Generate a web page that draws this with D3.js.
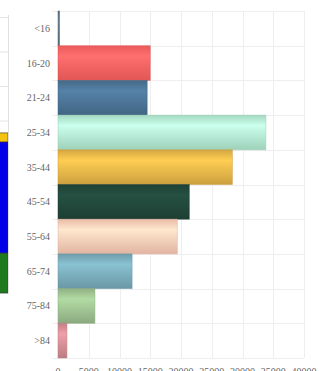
<!DOCTYPE html>
<html>
<head>
<meta charset="utf-8">
<script src="https://cdn.jsdelivr.net/npm/d3@7"></script>
<style>
  body { margin: 0; background: #fff; }
  svg { display: block; }
</style>
</head>
<body>
<div id="chart"></div>
<script>
// age groups and totals
var ageGroups = ["<16", "16-20", "21-24", "25-34", "35-44", "45-54", "55-64", "65-74", "75-84", ">84"];
var ageValues = [250, 15000, 14500, 33800, 28350, 21350, 19400, 12050, 6000, 1450];
var ageColors = ["#5d7386", "#ff6262", "#4b7394", "#b3edd2", "#e7b548", "#21473a", "#ffccb6", "#79abba", "#9dc190", "#d48c94"];
var xTicks = [0, 5000, 10000, 15000, 20000, 25000, 30000, 35000, 40000];

// the neighbouring chart that peeks in on the left edge
var sideValues = [11.6, 32.2, 2.6];
var sideColors = ["#1f7a1f", "#0000e6", "#f2c40f"];
var sideTicks = [0, 10, 20, 30, 40, 50, 60, 70, 80];

var width = 332, height = 371;

var svg = d3.select("#chart")
    .append("svg")
    .attr("width", width)
    .attr("height", height);

var defs = svg.append("defs");

// ---- left fragment ----
var sy = d3.scaleLinear().domain([0, 80]).range([293, 17]);

svg.selectAll(".sgrid")
    .data(sideTicks)
    .enter()
    .append("line")
    .attr("x1", 0)
    .attr("x2", 8)
    .attr("y1", function(d) { return sy(d) + 0.5; })
    .attr("y2", function(d) { return sy(d) + 0.5; })
    .attr("stroke", "#e6e6e6");

var stack = [];
var acc = 0;
sideValues.forEach(function(v, i) {
    stack.push({y0: acc, y1: acc + v, color: sideColors[i]});
    acc += v;
});

svg.selectAll(".sbar")
    .data(stack)
    .enter()
    .append("rect")
    .attr("x", -2)
    .attr("y", function(d) { return sy(d.y1); })
    .attr("width", 10)
    .attr("height", function(d) { return sy(d.y0) - sy(d.y1); })
    .attr("fill", function(d) { return d.color; })
    .attr("stroke", "#333")
    .attr("stroke-width", 0.6);

svg.append("line")
    .attr("x1", 8.5).attr("x2", 8.5)
    .attr("y1", 15).attr("y2", 293)
    .attr("stroke", "#e0e0e0");

// ---- main chart ----
var x = d3.scaleLinear().domain([0, 40000]).range([58, 304]);
var y = d3.scaleBand().domain(ageGroups).range([11, 358]).padding(0);

// grid
svg.selectAll(".vgrid")
    .data(xTicks)
    .enter()
    .append("line")
    .attr("x1", function(d) { return Math.round(x(d)) + 0.5; })
    .attr("x2", function(d) { return Math.round(x(d)) + 0.5; })
    .attr("y1", 11)
    .attr("y2", 358)
    .attr("stroke", "#eeeeee");

var bounds = ageGroups.map(function(g) { return y(g); }).concat([358]);
svg.selectAll(".hgrid")
    .data(bounds)
    .enter()
    .append("line")
    .attr("x1", 52)
    .attr("x2", 304)
    .attr("y1", function(d) { return Math.round(d) + 0.5; })
    .attr("y2", function(d) { return Math.round(d) + 0.5; })
    .attr("stroke", "#eeeeee");

// glossy gradients, one per bar
ageColors.forEach(function(c, i) {
    var g = defs.append("linearGradient")
        .attr("id", "grad" + i)
        .attr("x1", 0).attr("y1", 0)
        .attr("x2", 0).attr("y2", 1);
    g.append("stop").attr("offset", "0%").attr("stop-color", d3.color(c).darker(0.25));
    g.append("stop").attr("offset", "30%").attr("stop-color", d3.color(c).brighter(0.35));
    g.append("stop").attr("offset", "100%").attr("stop-color", d3.color(c).darker(0.35));
});

var bars = svg.selectAll(".bar")
    .data(ageGroups)
    .enter()
    .append("rect")
    .attr("x", x(0))
    .attr("y", function(d) { return y(d); })
    .attr("width", function(d, i) { return x(ageValues[i]) - x(0); })
    .attr("height", y.bandwidth())
    .attr("fill", function(d, i) { return "url(#grad" + i + ")"; })
    .attr("stroke", function(d, i) { return d3.color(ageColors[i]).darker(0.4); })
    .attr("stroke-width", 0.8)
    .attr("stroke-opacity", 0.6);

// category labels
svg.selectAll(".ylab")
    .data(ageGroups)
    .enter()
    .append("text")
    .attr("x", 50)
    .attr("y", function(d) { return y(d) + y.bandwidth() / 2; })
    .attr("dy", ".35em")
    .attr("text-anchor", "end")
    .attr("font-family", "Liberation Serif, serif")
    .attr("font-size", 10)
    .attr("fill", "#666")
    .text(function(d) { return d; });

// x tick labels (mostly cropped off by the bottom edge)
svg.selectAll(".xlab")
    .data(xTicks)
    .enter()
    .append("text")
    .attr("x", function(d) { return x(d); })
    .attr("y", 375)
    .attr("text-anchor", "middle")
    .attr("font-family", "Liberation Serif, serif")
    .attr("font-size", 10)
    .attr("fill", "#666")
    .text(function(d) { return d; });
</script>
</body>
</html>
